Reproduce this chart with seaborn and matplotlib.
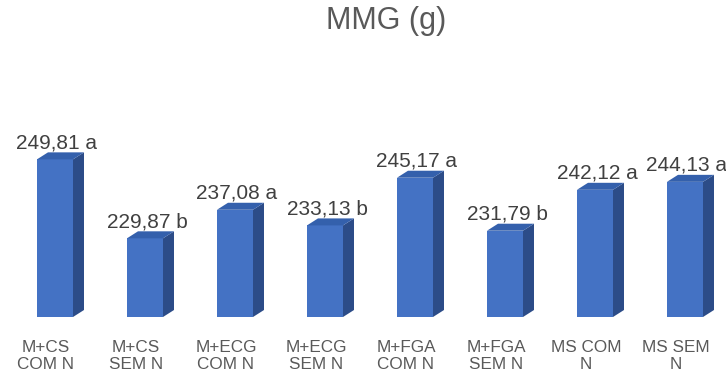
import matplotlib
matplotlib.use("Agg")
import matplotlib.pyplot as plt
import matplotlib.transforms as mtransforms
from matplotlib.patches import Polygon
import seaborn as sns
import pandas as pd

categories = ["M+CS\nCOM N", "M+CS\nSEM N", "M+ECG\nCOM N", "M+ECG\nSEM N",
              "M+FGA\nCOM N", "M+FGA\nSEM N", "MS COM\nN", "MS SEM\nN"]
values = [249.81, 229.87, 237.08, 233.13, 245.17, 231.79, 242.12, 244.13]
letters = ["a", "b", "a", "b", "a", "b", "a", "a"]
title = "MMG (g)"

sns.set_theme(style="white")
plt.rcParams['font.family'] = ['Liberation Sans', 'DejaVu Sans']

FRONT = "#4472C4"
SIDE = "#2C4C88"
TOP = "#3460AC"

fig = plt.figure(figsize=(7.26, 3.76), dpi=100)
ax = fig.add_axes([10/726, 59/376, 711/726, 198/376])

df = pd.DataFrame({"cat": categories, "val": values})
sns.barplot(data=df, x="cat", y="val", color=FRONT, saturation=1, width=0.4, ax=ax,
            edgecolor="none", linewidth=0)

ymin, ymax = 210, 260
ax.set_ylim(ymin, ymax)
ax.set_xlim(-0.5, 7.4)
for s in ax.spines.values():
    s.set_visible(False)
ax.set_yticks([])
ax.set_xlabel("")
ax.set_ylabel("")
ax.tick_params(axis="x", length=0, pad=16.5, labelsize=12.3, labelcolor="#595959")
for lab in ax.get_xticklabels():
    lab.set_linespacing(1.15)
    lab.set_multialignment("center")
    lab.set_transform(lab.get_transform() + mtransforms.ScaledTranslation(-9/100, 0, fig.dpi_scale_trans))

fig.canvas.draw()
DX, DY = 11, 7  # pixel depth
inv = ax.transData.inverted()
for p, v, l in zip(ax.patches, values, letters):
    x0 = p.get_x()
    x1 = x0 + p.get_width()
    (px0, pyb), (px1, pyt) = ax.transData.transform([(x0, ymin), (x1, v)])
    side = inv.transform([(px1, pyb), (px1 + DX, pyb + DY), (px1 + DX, pyt + DY), (px1, pyt)])
    top = inv.transform([(px0, pyt), (px0 + DX, pyt + DY), (px1 + DX, pyt + DY), (px1, pyt)])
    ax.add_patch(Polygon(side, closed=True, facecolor=SIDE, edgecolor="none", clip_on=False))
    ax.add_patch(Polygon(top, closed=True, facecolor=TOP, edgecolor="none", clip_on=False))
    lx, ly = inv.transform((px0 + (px1 - px0) / 2 + 2, pyt + DY + 4))
    ax.text(lx, ly, f"{v:.2f}".replace(".", ",") + f" {l}", ha="center", va="baseline",
            fontsize=15, color="#404040", clip_on=False)

fig.text(386/726, 1 - 21/376, title, ha="center", va="center", fontsize=22, color="#595959")

fig.savefig("out.png", dpi=100)
